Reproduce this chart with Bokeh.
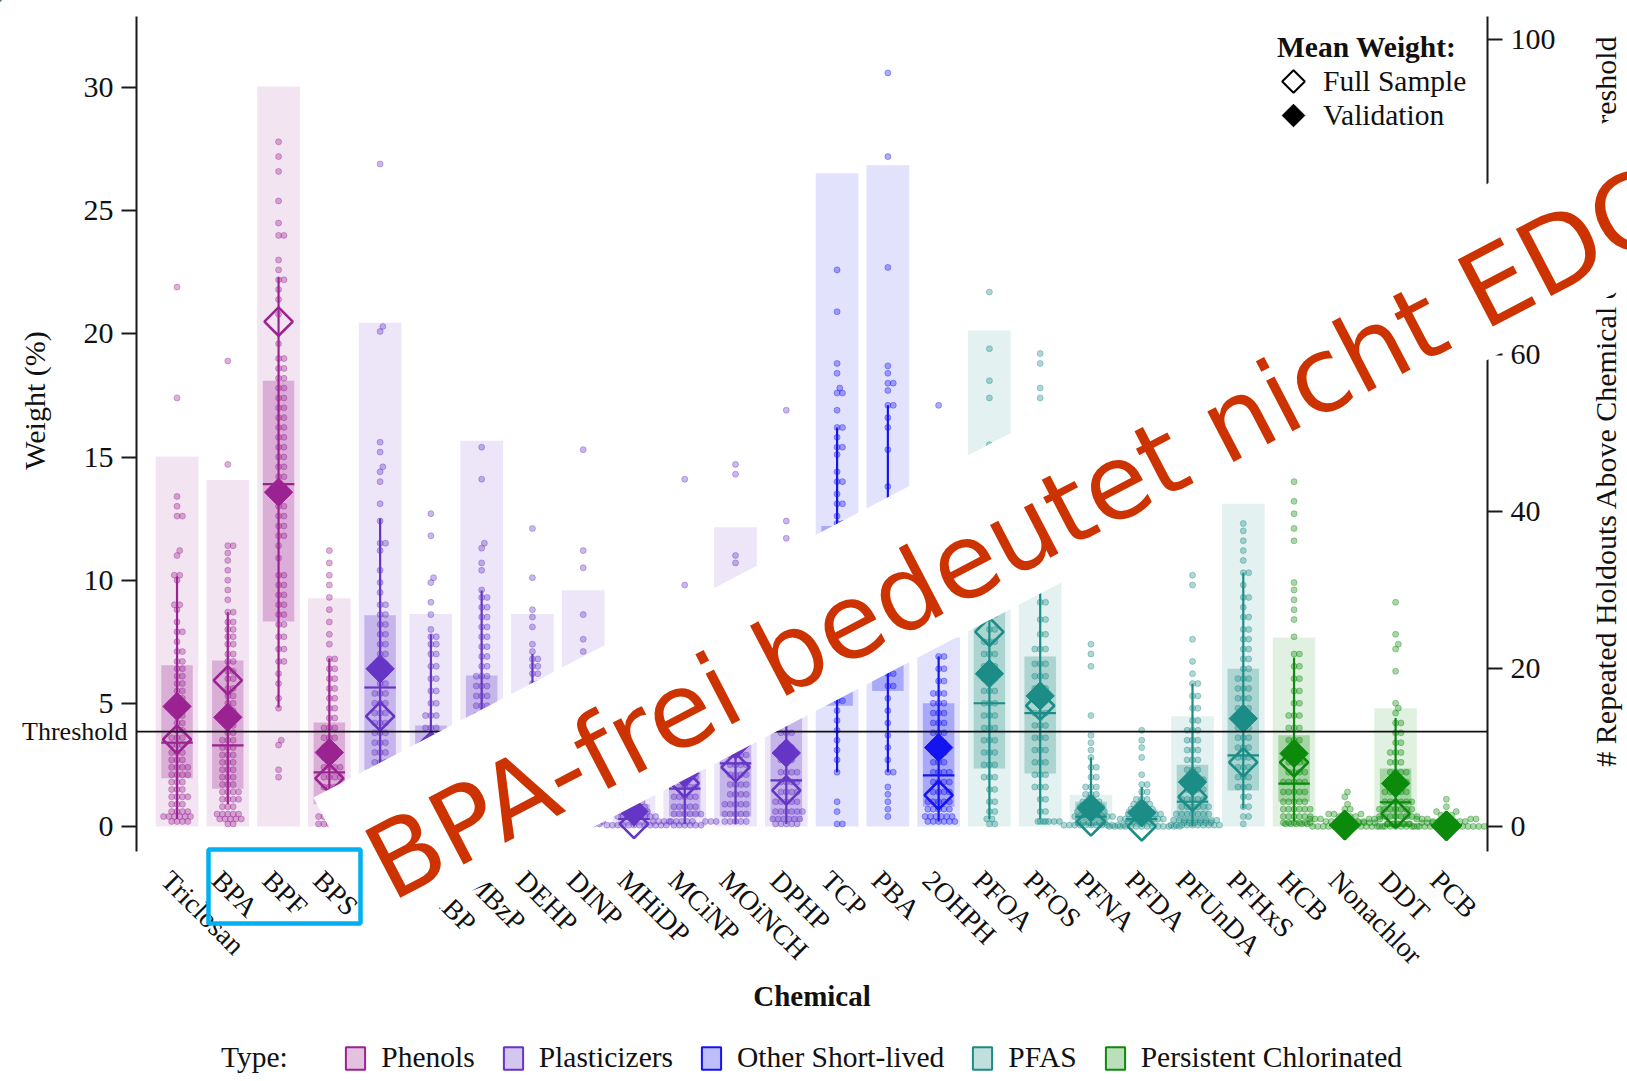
import math
import numpy as np
from bokeh.plotting import figure
from bokeh.models import (Range1d, LinearAxis, FixedTicker, Span, Legend, LegendItem,
                          ColumnDataSource)
from bokeh.core.properties import value
from bokeh.embed import file_html
from bokeh.resources import INLINE

# ---------------- data ----------------
chemicals = ["Triclosan", "BPA", "BPF", "BPS", "MEP", "MnBP", "MBzP", "DEHP", "DINP",
             "MHiDP", "MCiNP", "MOiNCH", "DPHP", "TCP", "PBA", "2OHPH", "PFOA", "PFOS",
             "PFNA", "PFDA", "PFUnDA", "PFHxS", "HCB", "Nonachlor", "DDT", "PCB"]
chem_type = ["Phenols", "Phenols", "Phenols", "Phenols",
             "Plasticizers", "Plasticizers", "Plasticizers", "Plasticizers", "Plasticizers",
             "Plasticizers", "Plasticizers", "Plasticizers", "Plasticizers",
             "Other Short-lived", "Other Short-lived", "Other Short-lived",
             "PFAS", "PFAS", "PFAS", "PFAS", "PFAS", "PFAS",
             "Persistent Chlorinated", "Persistent Chlorinated", "Persistent Chlorinated",
             "Persistent Chlorinated"]
# number of repeated holdouts above threshold (right axis)
holdouts_above = [47, 44, 94, 29, 64, 27, 49, 27, 30, 5, 16, 38, 28, 83, 84, 24,
                  63, 41, 4, 1, 14, 41, 24, 0, 15, 0]
# weight distribution summaries (%)
q1 = [1.95, 1.53, 8.32, 0.9, 2.3, 1.0, 1.6, 1.2, 0.4, 0.05, 0.4, 0.4, 0.2, 4.9, 5.5, 0.8,
      2.35, 2.15, 0.05, 0.0, 0.2, 1.46, 1.0, 0.0, 0.3, 0.0]
q3 = [6.54, 6.74, 18.1, 4.22, 8.57, 4.1, 6.13, 4.3, 2.8, 0.9, 3.2, 4.3, 4.5, 12.2, 12.8, 5.0,
      9.05, 6.9, 1.0, 0.7, 2.5, 6.4, 3.7, 0.1, 2.35, 0.1]
median = [3.4, 3.29, 13.9, 2.19, 5.64, 2.6, 3.4, 2.6, 1.3, 0.3, 1.53, 2.56, 1.87, 8.0, 9.0, 2.07,
          5.0, 4.6, 0.4, 0.3, 1.0, 2.88, 1.74, 0.05, 0.98, 0.05]
whisker_lo = [0.3, 0.9, 4.83, 0.1, 0.8, 0.3, 0.4, 0.3, 0.1, 0.0, 0.1, 0.1, 0.1, 2.2, 2.2, 0.2,
              0.3, 0.3, 0.0, 0.0, 0.0, 0.73, 0.2, 0.0, 0.0, 0.0]
whisker_hi = [10.15, 8.7, 22.3, 6.82, 12.5, 7.8, 9.58, 7.0, 5.5, 2.0, 5.8, 7.5, 8.0, 16.2, 17.1,
              6.9, 14.5, 11.0, 2.8, 1.6, 5.8, 10.3, 6.86, 0.3, 4.4, 0.3]
mean_full = [3.53, 5.93, 20.5, 1.95, 4.47, 2.7, 3.2, 2.5, 1.5, 0.1, 1.75, 2.4, 1.46, 8.0, 8.8,
             1.27, 7.9, 4.9, 0.2, 0.0, 1.2, 2.6, 2.6, 0.05, 0.52, 0.02]
mean_valid = [4.87, 4.43, 13.57, 3.0, 6.4, 3.3, 3.9, 3.0, 1.9, 0.6, 2.15, 3.3, 2.98, 8.5, 9.5,
              3.2, 6.2, 5.3, 0.75, 0.55, 1.8, 4.38, 2.96, 0.05, 1.74, 0.05]
threshold = 100 / 26

# repeated-holdout weights as (value, how many dots)
pts_triclosan = [(21.9,1),(17.4,1),(13.4,1),(13.0,1),(12.6,2),(11.2,1),(11.0,1),(10.2,2),(10.0,1),
                 (9.0,2),(8.8,1),(8.3,1),(7.9,2),(7.5,1),(7.1,2),(6.7,2),(6.4,2),(6.1,2),(5.8,2),
                 (5.5,2),(5.2,2),(4.8,2),(4.5,2),(4.2,2),(3.9,2),(3.6,3),(3.3,3),(3.0,3),(2.7,3),
                 (2.4,4),(2.1,4),(1.8,3),(1.5,3),(1.2,4),(0.9,3),(0.6,4),(0.4,6),(0.2,4)]
pts_bpa = [(18.9,1),(14.7,1),(11.4,2),(11.1,1),(10.8,1),(10.4,1),(10.0,1),(9.6,1),(9.2,1),(8.7,2),
           (8.3,2),(8.0,2),(7.7,2),(7.4,2),(7.0,2),(6.7,2),(6.3,2),(6.0,2),(5.6,2),(5.3,2),(5.0,2),
           (4.7,2),(4.4,2),(4.1,2),(3.8,2),(3.5,3),(3.2,3),(2.9,3),(2.6,3),(2.3,3),(2.0,3),(1.7,3),
           (1.4,4),(1.1,4),(0.8,3),(0.5,5),(0.3,5),(0.1,2)]
pts_bpf = [(27.8,1),(27.2,1),(26.6,1),(25.4,1),(24.5,1),(24.0,2),(23.0,1),(22.6,1),(22.2,2),(21.8,1),
           (21.4,1),(20.8,1),(19.6,1),(19.0,2),(18.6,2),(18.2,2),(17.8,2),(17.4,2),(17.0,2),(16.6,2),
           (16.2,2),(15.8,2),(15.4,2),(15.0,2),(14.6,2),(14.2,2),(13.8,2),(13.4,2),(13.0,2),(12.6,2),
           (12.2,2),(11.8,2),(11.4,1),(10.9,1),(10.2,2),(9.8,2),(9.4,2),(9.0,2),(8.6,2),(8.2,2),
           (7.7,2),(7.2,2),(6.7,2),(6.2,1),(5.8,1),(5.2,1),(4.8,1),(3.5,1),(3.3,1),(2.3,1),(2.0,1)]
pts_bps = [(11.2,1),(10.7,1),(10.2,1),(9.8,1),(9.3,1),(8.8,1),(8.3,1),(7.8,1),(7.4,1),(6.8,2),
           (6.4,2),(6.0,2),(5.6,2),(5.2,2),(4.8,2),(4.4,2),(4.0,3),(3.6,3),(3.2,3),(2.8,3),(2.4,4),
           (2.0,4),(1.6,4),(1.2,4),(0.8,4),(0.4,5),(0.1,6)]
pts_mep = [(26.9,1),(20.3,1),(20.1,1),(15.6,1),(15.2,1),(14.6,1),(14.4,1),(14.0,1),(13.1,1),(12.4,1),
           (11.5,2),(11.2,1),(10.4,1),(9.9,1),(9.5,1),(9.0,2),(8.6,2),(8.2,2),(7.8,2),(7.4,2),(7.0,2),
           (6.6,2),(6.2,2),(5.8,2),(5.4,3),(5.0,3),(4.6,3),(4.2,3),(3.8,3),(3.4,3),(3.0,3),(2.6,3),
           (2.2,2),(1.8,2),(1.4,2),(1.0,2),(0.6,2),(0.2,2)]
pts_mnbp = [(12.7,1),(11.8,1),(10.1,1),(9.9,1),(9.1,1),(8.6,1),(8.0,1),(7.7,2),(7.4,2),(7.0,2),
            (6.5,2),(6.0,2),(5.5,2),(5.0,2),(4.5,3),(4.0,3),(3.5,3),(3.0,3),(2.5,4),(2.0,4),(1.5,4),
            (1.0,4),(0.6,5),(0.3,5),(0.1,5)]
pts_mbzp = [(15.4,1),(14.1,1),(11.5,1),(11.3,1),(10.7,1),(10.4,1),(9.6,1),(9.3,2),(8.9,2),(8.5,2),
            (8.1,2),(7.7,2),(7.3,2),(6.9,2),(6.5,2),(6.1,3),(5.7,3),(5.3,3),(4.9,3),(4.5,3),(4.1,3),
            (3.7,3),(3.3,3),(2.9,3),(2.5,3),(2.1,3),(1.7,3),(1.3,3),(0.9,3),(0.5,3),(0.2,3)]
pts_dehp = [(12.1,1),(10.1,1),(8.8,1),(8.5,1),(8.1,1),(7.4,1),(7.1,1),(6.8,2),(6.5,2),(6.2,2),
            (5.8,2),(5.4,2),(5.0,2),(4.6,3),(4.2,3),(3.8,3),(3.4,3),(3.0,3),(2.6,3),(2.2,3),(1.8,4),
            (1.4,4),(1.0,4),(0.6,5),(0.3,5),(0.1,4)]
pts_dinp = [(15.3,1),(11.2,1),(10.5,1),(8.6,1),(7.6,1),(7.1,1),(6.5,1),(6.0,1),(5.5,2),(5.0,2),
            (4.5,2),(4.0,2),(3.5,3),(3.0,3),(2.5,3),(2.0,4),(1.5,4),(1.0,5),(0.6,6),(0.3,7),(0.1,7)]
pts_mhidp = [(3.0,1),(2.4,1),(2.0,2),(1.6,2),(1.3,3),(1.0,4),(0.8,5),(0.6,6),(0.4,8),(0.2,10),
             (0.05,12)]
pts_mcinp = [(14.1,1),(9.8,1),(7.5,1),(6.6,1),(5.8,1),(5.2,2),(4.6,2),(4.0,2),(3.5,3),(3.0,3),
             (2.5,4),(2.0,4),(1.6,4),(1.2,5),(0.8,5),(0.5,6),(0.2,7),(0.05,6)]
pts_moinch = [(14.7,1),(14.3,1),(11.0,1),(10.7,1),(8.4,1),(7.6,1),(6.8,2),(6.0,2),(5.4,2),(4.8,2),
              (4.3,3),(3.8,3),(3.3,3),(2.9,4),(2.5,4),(2.1,4),(1.7,4),(1.3,4),(0.9,5),(0.5,5),(0.2,5)]
pts_dphp = [(16.9,1),(12.4,1),(11.7,1),(9.0,1),(8.2,1),(7.4,1),(6.6,2),(5.8,2),(5.0,2),(4.4,3),
            (3.8,3),(3.2,3),(2.7,3),(2.2,4),(1.8,4),(1.4,4),(1.0,5),(0.6,6),(0.3,6),(0.1,5)]
pts_tcp = [(22.6,1),(20.9,1),(18.8,1),(18.4,1),(17.8,1),(17.6,2),(16.9,1),(16.2,2),(15.8,1),(15.4,2),
           (15.1,1),(14.4,1),(14.0,2),(13.5,1),(13.1,2),(12.6,1),(12.3,2),(11.9,2),(11.5,2),(11.1,2),
           (10.7,2),(10.3,2),(9.9,2),(9.5,2),(9.1,2),(8.7,2),(8.3,2),(7.9,2),(7.5,2),(7.1,2),(6.7,2),
           (6.3,2),(5.9,2),(5.5,2),(5.1,2),(4.7,1),(4.3,1),(3.9,1),(3.5,1),(3.1,1),(2.7,1),(2.2,1),
           (1.0,1),(0.6,1),(0.1,2)]
pts_pba = [(30.6,1),(27.2,1),(22.7,1),(18.7,1),(18.4,1),(18.0,2),(17.7,1),(17.1,2),(16.6,1),(16.2,1),
           (15.3,1),(13.8,1),(13.2,1),(12.7,2),(12.2,2),(11.7,2),(11.2,2),(10.7,2),(10.2,2),(9.7,2),
           (9.2,2),(8.7,2),(8.2,2),(7.7,2),(7.2,2),(6.7,2),(6.2,2),(5.7,2),(5.2,1),(4.7,1),(4.2,1),
           (3.7,1),(3.2,1),(2.7,1),(2.2,2),(1.6,1),(1.3,1),(1.0,1),(0.7,1),(0.4,1)]
pts_2ohph = [(17.1,1),(9.3,1),(8.6,1),(7.8,1),(6.9,2),(6.4,2),(5.9,2),(5.4,3),(5.0,3),(4.6,3),(4.2,3),
             (3.8,3),(3.4,3),(3.0,3),(2.6,3),(2.2,4),(1.8,4),(1.4,4),(1.0,5),(0.7,5),(0.4,6),(0.2,6)]
pts_pfoa = [(21.7,1),(19.4,1),(18.1,1),(17.4,1),(15.5,1),(14.0,1),(13.0,1),(12.2,1),(11.4,2),(10.6,2),
            (9.8,2),(9.2,2),(8.6,2),(8.0,2),(7.5,3),(7.0,3),(6.5,3),(6.0,3),(5.5,3),(5.0,3),(4.5,3),
            (4.0,3),(3.5,3),(3.0,3),(2.5,3),(2.0,3),(1.5,2),(1.0,2),(0.6,2),(0.3,2),(0.1,2)]
pts_pfos = [(19.2,1),(18.8,1),(17.8,1),(17.4,1),(14.3,1),(12.5,1),(11.5,1),(10.6,2),(9.8,2),(9.1,2),
            (8.4,2),(7.8,2),(7.2,3),(6.6,3),(6.1,3),(5.6,3),(5.1,3),(4.6,3),(4.1,3),(3.6,3),(3.1,3),
            (2.6,3),(2.1,3),(1.6,3),(1.1,2),(0.6,2),(0.2,2)]
pts_pfna = [(7.4,1),(7.0,1),(6.5,1),(4.5,1),(3.7,1),(3.4,1),(3.1,1),(2.8,1),(2.4,2),(2.0,2),(1.6,3),
            (1.3,3),(1.0,4),(0.8,5),(0.6,6),(0.4,8),(0.2,10),(0.05,12)]
pts_pfda = [(3.9,1),(3.5,1),(3.2,1),(2.8,1),(2.1,1),(1.7,2),(1.4,2),(1.1,3),(0.9,4),(0.7,5),(0.5,7),
            (0.3,9),(0.15,12),(0.0,14)]
pts_pfunda = [(10.2,1),(9.8,1),(7.6,1),(6.7,1),(6.2,1),(5.8,2),(5.3,2),(4.8,2),(4.3,2),(3.9,3),(3.5,3),
              (3.1,3),(2.7,3),(2.3,3),(1.9,4),(1.5,4),(1.1,5),(0.8,6),(0.5,7),(0.25,9),(0.05,10)]
pts_pfhxs = [(14.0,1),(12.3,1),(12.0,1),(11.6,1),(11.2,1),(10.8,1),(10.3,2),(9.8,1),(9.3,2),(8.9,1),
             (8.5,2),(8.0,2),(7.6,2),(7.2,2),(6.8,2),(6.4,2),(6.0,3),(5.6,3),(5.2,3),(4.8,3),(4.4,3),
             (4.0,3),(3.6,3),(3.2,3),(2.8,3),(2.4,3),(2.0,3),(1.6,3),(1.2,2),(0.8,2),(0.4,2),(0.1,1)]
pts_hcb = [(14.0,1),(13.2,1),(12.7,1),(12.1,1),(11.6,1),(9.9,1),(9.6,1),(9.2,1),(8.8,1),(8.4,1),
           (7.7,1),(7.0,2),(6.5,2),(6.0,2),(5.5,2),(5.0,2),(4.5,3),(4.0,3),(3.5,3),(3.0,3),(2.6,4),
           (2.2,4),(1.8,5),(1.4,5),(1.0,5),(0.7,6),(0.4,6),(0.15,6)]
pts_nonachlor = [(1.4,1),(1.2,1),(0.9,1),(0.7,2),(0.5,3),(0.4,4),(0.3,6),(0.2,8),(0.1,10),(0.0,14)]
pts_ddt = [(9.1,1),(7.8,1),(7.4,1),(7.2,1),(6.3,1),(5.0,1),(4.8,1),(4.6,1),(4.2,2),(3.8,2),(3.4,2),
           (3.0,3),(2.6,3),(2.2,4),(1.8,4),(1.4,5),(1.0,6),(0.7,7),(0.4,8),(0.15,9),(0.0,8)]
pts_pcb = [(1.1,1),(0.8,1),(0.6,2),(0.45,3),(0.3,5),(0.2,7),(0.1,10),(0.0,14)]

points_by_chem = [pts_triclosan, pts_bpa, pts_bpf, pts_bps, pts_mep, pts_mnbp, pts_mbzp, pts_dehp,
                  pts_dinp, pts_mhidp, pts_mcinp, pts_moinch, pts_dphp, pts_tcp, pts_pba, pts_2ohph,
                  pts_pfoa, pts_pfos, pts_pfna, pts_pfda, pts_pfunda, pts_pfhxs, pts_hcb,
                  pts_nonachlor, pts_ddt, pts_pcb]

type_names = ["Phenols", "Plasticizers", "Other Short-lived", "PFAS", "Persistent Chlorinated"]
type_colors = ["#9b2391", "#6535c5", "#1414f0", "#1b8c86", "#0c8a0c"]
color_of = dict(zip(type_names, type_colors))

banner_text = "BPA-frei bedeutet nicht EDC-frei"
left_axis_title = "Weight (%)"
right_axis_title = "# Repeated Holdouts Above Chemical of Concern Threshold"

# ---------------- layout constants (canvas pixels) ----------------
W, H = 1627, 1081
FL, FT, FR, FB = 136, 16, 1487, 851          # plot frame box
X_START, X_END = -0.798, 25.81
Y_START, Y_END = -1.02, 32.89
R_START, R_END = -3.19, 102.9
XPX = (FR - FL) / (X_END - X_START)
YPX = (FB - FT) / (Y_END - Y_START)
SERIF = "Liberation Serif"

def swarm_offsets(vals, d=5.3, step=0.9):
    vals = np.asarray(vals, float)
    order = np.argsort(vals, kind="stable")
    px, py = [], []
    offs = np.zeros(len(vals))
    for i in order:
        y = vals[i] * YPX
        ax, ay = np.array(px), np.array(py)
        if len(ay):
            m = np.abs(ay - y) < d
            nx, ny = ax[m], ay[m]
        else:
            nx, ny = np.array([]), np.array([])
        k, chosen = 0, None
        while chosen is None:
            for c in ([0.0] if k == 0 else [k * step, -k * step]):
                if len(nx) == 0 or np.all((nx - c) ** 2 + (ny - y) ** 2 >= d * d):
                    chosen = c
                    break
            k += 1
        px.append(chosen); py.append(y)
        offs[i] = chosen / XPX
    return offs

idx = list(range(len(chemicals)))
colors = [color_of[t] for t in chem_type]

p = figure(width=W, height=H, output_backend="svg", toolbar_location=None,
           x_range=Range1d(X_START, X_END), y_range=Range1d(Y_START, Y_END),
           min_border_left=FL, min_border_right=W - FR, min_border_top=FT,
           min_border_bottom=H - FB, background_fill_color="white", border_fill_color="white")
p.extra_y_ranges = {"right": Range1d(R_START, R_END)}
p.outline_line_color = None
p.grid.visible = False

# light bars: holdouts above threshold (right axis)
bars = ColumnDataSource(dict(x=idx, top=holdouts_above, c=colors))
p.vbar(x="x", top="top", bottom=0, width=0.84, source=bars, y_range_name="right",
       fill_color="c", fill_alpha=0.12, line_color=None)
# inner boxes
boxes = ColumnDataSource(dict(x=idx, b=q1, t=q3, c=colors))
p.vbar(x="x", bottom="b", top="t", width=0.62, source=boxes, fill_color="c",
       fill_alpha=0.28, line_color=None)

# swarm points
sx, sy, sc = [], [], []
for i, pairs in enumerate(points_by_chem):
    vals = np.repeat([v for v, n in pairs], [n for v, n in pairs])
    offs = swarm_offsets(vals)
    sx.extend(list(i + offs)); sy.extend(list(vals)); sc.extend([colors[i]] * len(vals))
p.scatter(x=sx, y=sy, size=6, fill_color=sc, fill_alpha=0.35, line_color=sc, line_alpha=0.45,
          line_width=0.8)

# whiskers and medians
summ = ColumnDataSource(dict(x=idx, x0=[i - 0.31 for i in idx], x1=[i + 0.31 for i in idx],
                             lo=whisker_lo, hi=whisker_hi, med=median, mf=mean_full,
                             mv=mean_valid, c=colors))
p.segment(x0="x", x1="x", y0="lo", y1="hi", source=summ, line_color="c", line_width=2.2)
p.segment(x0="x0", x1="x1", y0="med", y1="med", source=summ, line_color="c", line_width=2.2)
# mean diamonds
p.scatter(x="x", y="mf", source=summ, marker="square", angle=math.pi / 4, size=20,
          fill_alpha=0, line_color="c", line_width=2.6)
p.scatter(x="x", y="mv", source=summ, marker="square", angle=math.pi / 4, size=20,
          fill_color="c", line_color="c", line_width=1)

p.add_layout(Span(location=threshold, dimension="width", line_color="#111111", line_width=1.8))

# ---------------- axes ----------------
def style_y(ax):
    ax.axis_line_width = 2
    ax.axis_line_color = "#1a1a1a"
    ax.major_tick_out = 15
    ax.major_tick_in = 0
    ax.major_tick_line_width = 2
    ax.major_tick_line_color = "#1a1a1a"
    ax.minor_tick_line_color = None
    ax.major_label_text_font = SERIF
    ax.major_label_text_font_size = "30px"
    ax.major_label_text_color = "#111111"
    ax.major_label_standoff = 8

ly = p.yaxis[0]
ly.ticker = FixedTicker(ticks=[0, 5, 10, 15, 20, 25, 30])
style_y(ly)

ry = LinearAxis(y_range_name="right", ticker=FixedTicker(ticks=[0, 20, 40, 60, 80, 100]))
style_y(ry)
p.add_layout(ry, "right")

label_ticks = [round(i - 0.22, 2) for i in idx]
xa = p.xaxis[0]
xa.ticker = FixedTicker(ticks=label_ticks)
xa.major_label_overrides = {t: n for t, n in zip(label_ticks, chemicals)}
xa.major_label_orientation = -math.pi / 4
xa.axis_line_color = None
xa.major_tick_line_color = None
xa.minor_tick_line_color = None
xa.major_label_text_font = SERIF
xa.major_label_text_font_size = "28px"
xa.major_label_text_color = "#111111"
xa.major_label_standoff = 18
xa.axis_label = "Chemical"
xa.axis_label_text_font = SERIF
xa.axis_label_text_font_size = "29px"
xa.axis_label_text_font_style = "bold"
xa.axis_label_text_color = "#111111"
xa.axis_label_standoff = -4

# mean-weight legend: text from the Legend, diamond keys drawn on the overlay
open_r = p.scatter(x=[-5], y=[0], marker="square", size=1, fill_alpha=0, line_alpha=0)
fill_r = p.scatter(x=[-5], y=[0], marker="square", size=1, fill_alpha=0, line_alpha=0)
leg_mean = Legend(items=[LegendItem(label="Full Sample", renderers=[open_r]),
                         LegendItem(label="Validation", renderers=[fill_r])],
                  title="Mean Weight:", location=(1141, 719), glyph_width=34, glyph_height=34,
                  label_standoff=12, spacing=0, padding=0, margin=0, title_standoff=0,
                  border_line_color=None, background_fill_alpha=0,
                  label_text_font=SERIF, label_text_font_size="29.5px",
                  label_text_color="#111111", title_text_font=SERIF,
                  title_text_font_size="29.5px", title_text_font_style="bold",
                  title_text_color="#111111")
p.add_layout(leg_mean)

# ---------------- overlay figure (same canvas, pixel coordinates) ----------------
ov = figure(width=W, height=H, output_backend="svg", toolbar_location=None,
            x_range=Range1d(0, W), y_range=Range1d(H, 0),
            x_axis_location=None, y_axis_location=None,
            min_border_left=0, min_border_right=0, min_border_top=0, min_border_bottom=0,
            background_fill_alpha=0, border_fill_alpha=0,
            styles={"position": "absolute", "top": "0px", "left": "0px"})
ov.outline_line_color = None
ov.grid.visible = False

thr_y = FT + (Y_END - threshold) * YPX
ov.text(x=[FL - 9], y=[thr_y], text=["Threshold"], text_align="right", text_baseline="middle",
        text_font=value(SERIF), text_font_size="26px", text_color="#111111")
ov.text(x=[34], y=[400], text=[left_axis_title], angle=90, angle_units="deg",
        text_align="center", text_baseline="middle", text_font=value(SERIF),
        text_font_size="30px", text_color="#111111")
ov.text(x=[1605], y=[400], text=[right_axis_title], angle=90, angle_units="deg",
        text_align="center", text_baseline="middle", text_font=value(SERIF),
        text_font_size="30px", text_color="#111111")

# legend keys for the mean-weight legend
ov.scatter(x=[1293], y=[81], marker="square", angle=math.pi / 4, size=16, fill_alpha=0,
           line_color="black", line_width=2)
ov.scatter(x=[1293], y=[115], marker="square", angle=math.pi / 4, size=16,
           fill_color="black", line_color="black")

# white banner with red statement
ang = 27.6
theta = math.radians(ang)
ux, uy = math.cos(theta), -math.sin(theta)
nx_, ny_ = math.sin(theta), math.cos(theta)
L, T = 1700, 156
tl = (313, 797)
tr = (tl[0] + L * ux, tl[1] + L * uy)
br = (tr[0] + T * nx_, tr[1] + T * ny_)
bl = (tl[0] + T * nx_, tl[1] + T * ny_)
ov.patch([tl[0], tr[0], br[0], bl[0]], [tl[1], tr[1], br[1], bl[1]], fill_color="white",
         line_color=None)
ov.text(x=[374], y=[870], text=[banner_text], angle=ang, angle_units="deg",
        text_font=value("DejaVu Sans"), text_font_size="104px", text_color="#cc3300",
        text_align="left", text_baseline="alphabetic")
# cyan highlight box around BPA / BPF / BPS
ov.patch([208, 360, 360, 208, 208], [849, 849, 923, 923, 849], fill_alpha=0,
         line_color="#00b0f0", line_width=4.5)

# type legend (dummy keys sit off-canvas)
blank = ov.vbar(x=[-100], top=[-50], bottom=[-60], width=10, fill_alpha=0, line_alpha=0)
type_items = [LegendItem(label="Type:    ", renderers=[blank])]
for t, c in zip(type_names, type_colors):
    r = ov.vbar(x=[-100], top=[-50], bottom=[-60], width=10, fill_color=c, fill_alpha=0.28,
                line_color=c, line_width=2)
    type_items.append(LegendItem(label=t, renderers=[r]))
leg_type = Legend(items=type_items, orientation="horizontal", location=(183, 7),
                  glyph_width=24, glyph_height=28, label_standoff=14, spacing=26, padding=0,
                  margin=0, border_line_color=None, background_fill_alpha=0,
                  label_text_font=SERIF, label_text_font_size="29.5px",
                  label_text_color="#111111")
ov.add_layout(leg_type)

open("out.html", "w").write(file_html([p, ov], INLINE))
